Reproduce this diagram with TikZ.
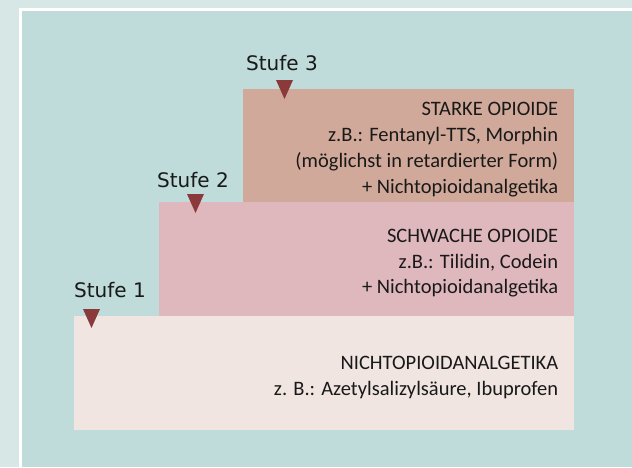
\documentclass[tikz,border=0pt]{standalone}
\usepackage{fontspec}
\setmainfont{Carlito}
\newfontfamily\stufefont{DejaVu Sans}
\usetikzlibrary{positioning}

\definecolor{outerbg}{HTML}{D6E7E5}
\definecolor{innerbg}{HTML}{BFDBDA}
\definecolor{stufedrei}{HTML}{D1A99A}
\definecolor{stufezwei}{HTML}{DFB8BE}
\definecolor{stufeeins}{HTML}{F0E5E0}
\definecolor{marker}{HTML}{8B3A3C}

\begin{document}
\begin{tikzpicture}[x=1pt, y=-1pt,
    stufebox/.style={anchor=north west, inner sep=0pt, minimum height=114pt},
    stufetext/.style={anchor=east, inner sep=0pt, align=right, text=black!90,
      font=\fontsize{20.5}{25.8}\selectfont},
    stufelabel/.style={anchor=base west, inner sep=0pt, text=black!90,
      font=\stufefont\fontsize{20}{24}\selectfont}]
  % background and frame
  \fill[outerbg] (0,0) rectangle (632,467);
  \fill[white] (19,8) rectangle (632,467);
  \fill[innerbg] (22,11) rectangle (632,467);
  % the three steps
  \node[stufebox, fill=stufeeins, minimum width=500pt] (S1) at (74,316) {};
  \node[stufebox, fill=stufezwei, minimum width=415pt] (S2) at (159,202) {};
  \node[stufebox, fill=stufedrei, minimum width=331pt, minimum height=113pt] (S3) at (243,89) {};
  \node[stufetext] (T1) at ([xshift=-16pt, yshift=-4pt]S1.east) {NICHTOPIOIDANALGETIKA\\z. B.: Azetylsalizylsäure, Ibuprofen};
  \node[stufetext] (T2) at ([xshift=-16pt, yshift=-4pt]S2.east) {SCHWACHE OPIOIDE\\z.B.: Tilidin, Codein\\+ Nichtopioidanalgetika};
  \node[stufetext] (T3) at ([xshift=-16pt, yshift=-4pt]S3.east) {STARKE OPIOIDE\\z.B.: Fentanyl-TTS, Morphin\\(möglichst in retardierter Form)\\+ Nichtopioidanalgetika};
  % labels
  \node[stufelabel] (L1) at (74,297) {Stufe 1};
  \node[stufelabel] (L2) at (157,187) {Stufe 2};
  \node[stufelabel] (L3) at (246,70) {Stufe 3};
  % markers
  \fill[marker] (83,309) -- (100,309) -- (91.5,328) -- cycle;
  \fill[marker] (187,194) -- (204,194) -- (195.5,213) -- cycle;
  \fill[marker] (276,80) -- (293,80) -- (284.5,99) -- cycle;
\end{tikzpicture}
\end{document}
